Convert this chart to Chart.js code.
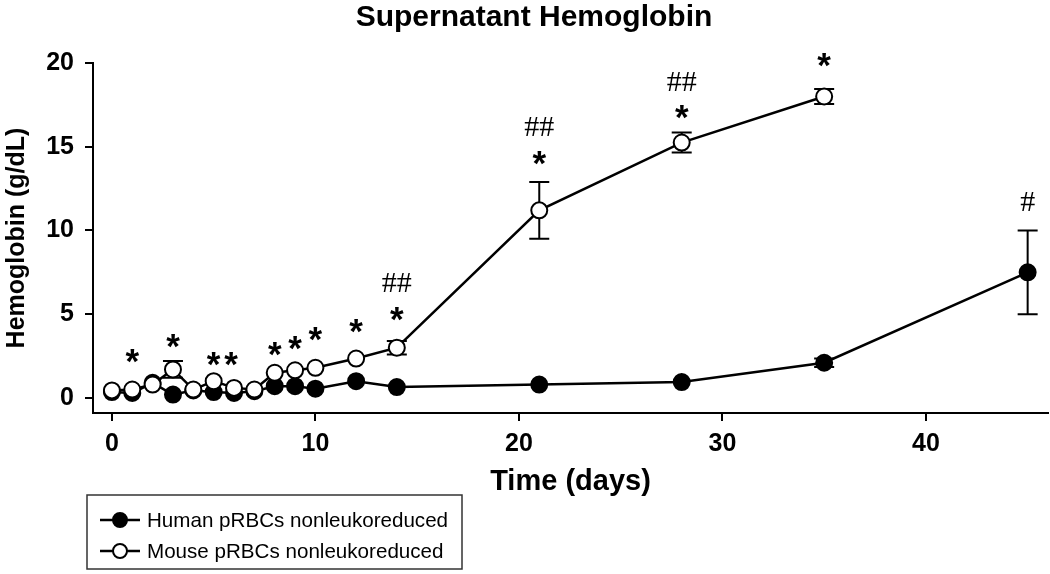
<!DOCTYPE html>
<html>
<head>
<meta charset="utf-8">
<title>Supernatant Hemoglobin</title>
<script src="https://cdn.jsdelivr.net/npm/chart.js@4.4.1/dist/chart.umd.min.js"></script>
<style>
  html, body { margin: 0; padding: 0; background: #fff; }
  #wrap { width: 1050px; height: 574px; position: relative; }
</style>
</head>
<body>
<div id="wrap"><canvas id="hb-chart"></canvas></div>
<script>
// Data (days vs g/dL)
const humanDays = [0, 1, 2, 3, 4, 5, 6, 7, 8, 9, 10, 12, 14, 21, 28, 35, 45];
const humanHb   = [0.35, 0.3, 0.9, 0.2, 0.45, 0.35, 0.3, 0.4, 0.7, 0.7, 0.55, 1.0, 0.65, 0.8, 0.95, 2.1, 7.5];
const humanErr  = [0, 0, 0, 0, 0, 0, 0, 0, 0, 0, 0, 0, 0, 0, 0, 0.25, 2.5];

const mouseDays = [0, 1, 2, 3, 4, 5, 6, 7, 8, 9, 10, 12, 14, 21, 28, 35];
const mouseHb   = [0.45, 0.5, 0.8, 1.7, 0.5, 1.0, 0.6, 0.5, 1.5, 1.65, 1.8, 2.35, 3.0, 11.2, 15.25, 18.0];
const mouseErr  = [0, 0, 0, 0.5, 0, 0, 0, 0, 0, 0, 0, 0, 0.4, 1.7, 0.6, 0.45];

// significance marks (day, height in g/dL, symbol)
const markDays = [1, 3, 5, 5.85, 8, 9, 10, 12, 14, 14, 21, 21, 28, 28, 35, 45];
const markVals = [2.5, 3.4, 2.3, 2.3, 2.9, 3.3, 3.8, 4.3, 5.0, 6.9, 14.3, 16.2, 17.1, 18.9, 20.2, 11.7];
const markText = ['*', '*', '*', '*', '*', '*', '*', '*', '*', '##', '*', '##', '*', '##', '*', '#'];

const xTicks = [0, 10, 20, 30, 40];
const yTicks = [0, 5, 10, 15, 20];
const xRange = [-0.93, 46.0];
const yRange = [-0.9, 20];

const SANS = "'Liberation Sans', Arial, sans-serif";
const SERIF = "'Liberation Serif', 'Times New Roman', serif";

function toPoints(days, vals) {
    return days.map((d, i) => ({ x: d, y: vals[i] }));
}

// error bars go under the markers
const errorBarPlugin = {
    id: 'errorBars',
    beforeDatasetsDraw(chart) {
        const { ctx, scales: { x, y } } = chart;
        ctx.save();
        ctx.strokeStyle = '#000';
        ctx.lineWidth = 2;
        [[humanDays, humanHb, humanErr], [mouseDays, mouseHb, mouseErr]].forEach(([days, vals, errs]) => {
            days.forEach((d, i) => {
                if (!errs[i]) return;
                const px = x.getPixelForValue(d);
                const top = y.getPixelForValue(vals[i] + errs[i]);
                const bot = y.getPixelForValue(vals[i] - errs[i]);
                ctx.beginPath();
                ctx.moveTo(px, top); ctx.lineTo(px, bot);
                ctx.moveTo(px - 10, top); ctx.lineTo(px + 10, top);
                ctx.moveTo(px - 10, bot); ctx.lineTo(px + 10, bot);
                ctx.stroke();
            });
        });
        ctx.restore();
    }
};

// * and # above the points
const marksPlugin = {
    id: 'sigMarks',
    afterDatasetsDraw(chart) {
        const { ctx, scales: { x, y } } = chart;
        ctx.save();
        ctx.fillStyle = '#000';
        ctx.textAlign = 'center';
        ctx.textBaseline = 'alphabetic';
        markDays.forEach((d, i) => {
            const txt = markText[i];
            ctx.font = txt === '*' ? 'bold 35px ' + SANS : '30px ' + SERIF;
            const m = ctx.measureText(txt);
            const cy = y.getPixelForValue(markVals[i]);
            const base = cy + (m.actualBoundingBoxAscent - m.actualBoundingBoxDescent) / 2;
            ctx.fillText(txt, x.getPixelForValue(d), base);
        });
        ctx.restore();
    }
};

// boxed legend under the plot, bottom left
const boxLegendPlugin = {
    id: 'boxLegend',
    afterDraw(chart) {
        const ctx = chart.ctx;
        ctx.save();
        ctx.strokeStyle = '#333';
        ctx.lineWidth = 1.5;
        ctx.strokeRect(87, 495, 375, 74);
        const rows = [520, 551];
        chart.data.datasets.forEach((ds, i) => {
            const yy = rows[i];
            ctx.strokeStyle = '#000';
            ctx.lineWidth = 2.5;
            ctx.beginPath();
            ctx.moveTo(100, yy); ctx.lineTo(140, yy);
            ctx.stroke();
            ctx.beginPath();
            ctx.arc(120, yy, 7, 0, Math.PI * 2);
            ctx.fillStyle = ds.pointBackgroundColor;
            ctx.fill();
            ctx.lineWidth = 2;
            ctx.stroke();
            ctx.fillStyle = '#000';
            ctx.font = '20.6px ' + SANS;
            ctx.textAlign = 'left';
            ctx.textBaseline = 'middle';
            ctx.fillText(ds.label, 147, yy + 1);
        });
        ctx.restore();
    }
};

// drop the extra edge padding chart.js reserves for tick labels
function noEdgePad(s) {
    s.paddingLeft = 0;
    s.paddingRight = 0;
    s.paddingTop = 0;
    s.paddingBottom = 0;
}

document.addEventListener('DOMContentLoaded', function() {
    const hbCtx = document.getElementById('hb-chart').getContext('2d');
    const hbChart = new Chart(hbCtx, {
        type: 'line',
        data: {
            datasets: [{
                label: 'Human pRBCs nonleukoreduced',
                data: toPoints(humanDays, humanHb),
                borderColor: '#000',
                backgroundColor: '#000',
                pointBackgroundColor: '#000',
                pointBorderColor: '#000',
                pointRadius: 8,
                pointBorderWidth: 2,
                borderWidth: 2.5,
                tension: 0,
                order: 2
            }, {
                label: 'Mouse pRBCs nonleukoreduced',
                data: toPoints(mouseDays, mouseHb),
                borderColor: '#000',
                backgroundColor: '#fff',
                pointBackgroundColor: '#fff',
                pointBorderColor: '#000',
                pointRadius: 8,
                pointBorderWidth: 2,
                borderWidth: 2.5,
                tension: 0,
                order: 1
            }]
        },
        options: {
            responsive: true,
            maintainAspectRatio: false,
            animation: false,
            layout: { autoPadding: false, padding: { left: 20, right: 2, top: 0, bottom: 0 } },
            plugins: {
                legend: { display: false },
                tooltip: { enabled: false },
                title: {
                    display: true,
                    text: 'Supernatant Hemoglobin',
                    color: '#000',
                    font: { family: SANS, size: 30, weight: 'bold' },
                    padding: { top: 0, bottom: 27 }
                }
            },
            scales: {
                x: {
                    type: 'linear',
                    min: xRange[0],
                    max: xRange[1],
                    afterBuildTicks: s => { s.ticks = xTicks.map(v => ({ value: v })); },
                    afterFit: s => { s.height = 161; noEdgePad(s); },
                    grid: { display: true, drawOnChartArea: false, drawTicks: true, tickLength: 8, color: '#000', lineWidth: 2 },
                    border: { display: true, color: '#000', width: 2 },
                    ticks: { color: '#000', font: { family: SANS, size: 25, weight: 'bold' }, padding: 8, maxRotation: 0 },
                    title: {
                        display: true,
                        text: 'Time (days)',
                        color: '#000',
                        font: { family: SANS, size: 29, weight: 'bold' },
                        padding: { top: 0, bottom: 75 }
                    }
                },
                y: {
                    type: 'linear',
                    min: yRange[0],
                    max: yRange[1],
                    afterBuildTicks: s => { s.ticks = yTicks.map(v => ({ value: v })); },
                    afterFit: s => { s.width = 73; noEdgePad(s); },
                    grid: { display: true, drawOnChartArea: false, drawTicks: true, tickLength: 8, color: '#000', lineWidth: 2 },
                    border: { display: true, color: '#000', width: 2 },
                    ticks: { color: '#000', font: { family: SANS, size: 25, weight: 'bold' }, padding: 11 },
                    title: {
                        display: true,
                        text: 'Hemoglobin (g/dL)',
                        color: '#000',
                        font: { family: SANS, size: 25, weight: 'bold' },
                        padding: { top: -18, bottom: 0 }
                    }
                }
            }
        },
        plugins: [errorBarPlugin, marksPlugin, boxLegendPlugin]
    });
});
</script>
</body>
</html>
